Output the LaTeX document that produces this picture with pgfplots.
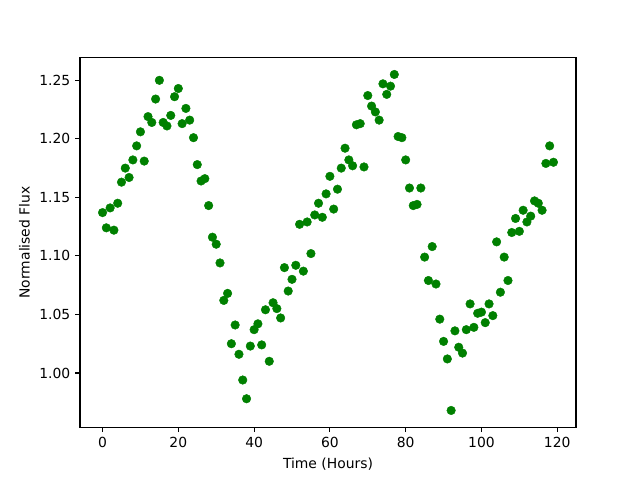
\documentclass[border=0pt]{standalone}
\usepackage{pgfplots}
\pgfplotsset{compat=1.18}
\usepackage{fontspec}
\setmainfont{DejaVu Sans}
\definecolor{mplgreen}{HTML}{008000}
\pgfplotstableread{
t f
0 1.137
1 1.124
2 1.141
3 1.122
4 1.145
5 1.163
6 1.175
7 1.167
8 1.182
9 1.194
10 1.206
11 1.181
12 1.219
13 1.214
14 1.234
15 1.250
16 1.214
17 1.211
18 1.220
19 1.236
20 1.243
21 1.213
22 1.226
23 1.216
24 1.201
25 1.178
26 1.164
27 1.166
28 1.143
29 1.116
30 1.110
31 1.094
32 1.062
33 1.068
34 1.025
35 1.041
36 1.016
37 0.994
38 0.978
39 1.023
40 1.037
41 1.042
42 1.024
43 1.054
44 1.010
45 1.060
46 1.055
47 1.047
48 1.090
49 1.070
50 1.080
51 1.092
52 1.127
53 1.087
54 1.129
55 1.102
56 1.135
57 1.145
58 1.133
59 1.153
60 1.168
61 1.140
62 1.157
63 1.175
64 1.192
65 1.182
66 1.177
67 1.212
68 1.213
69 1.176
70 1.237
71 1.228
72 1.223
73 1.216
74 1.247
75 1.238
76 1.245
77 1.255
78 1.202
79 1.201
80 1.182
81 1.158
82 1.143
83 1.144
84 1.158
85 1.099
86 1.079
87 1.108
88 1.076
89 1.046
90 1.027
91 1.012
92 0.968
93 1.036
94 1.022
95 1.017
96 1.037
97 1.059
98 1.039
99 1.051
100 1.052
101 1.043
102 1.059
103 1.049
104 1.112
105 1.069
106 1.099
107 1.079
108 1.120
109 1.132
110 1.121
111 1.139
112 1.129
113 1.134
114 1.147
115 1.145
116 1.139
117 1.179
118 1.194
119 1.180
}\datatable
\begin{document}
\fontsize{10bp}{12bp}\selectfont
\begin{tikzpicture}
\path[use as bounding box] (-0.8in,-0.528in) rectangle (5.6in,4.272in);
\begin{axis}[
  at={(0,0)}, anchor=south west,
  scale only axis,
  width=4.96in, height=3.696in,
  xmin=-5.95, xmax=124.95,
  ymin=0.9537, ymax=1.2694,
  xtick={0,20,40,60,80,100,120},
  ytick={1.00,1.05,1.10,1.15,1.20,1.25},
  yticklabel style={/pgf/number format/.cd, fixed, fixed zerofill, precision=2},
  /pgf/number format/assume math mode=true,
  tick align=outside,
  major tick length=3.5bp,
  tick style={line width=0.8bp, black},
  axis line style={line width=0.8bp},
  xtick pos=bottom, ytick pos=left,
  ticklabel style={font=\fontsize{10bp}{12bp}\selectfont},
  label style={font=\fontsize{10bp}{12bp}\selectfont},
  xlabel={Time (Hours)},
  ylabel={Normalised Flux},
  xlabel style={yshift=-1bp},
  ylabel style={yshift=0bp},
]
\addplot[only marks, mark=*, mark size=3.1bp, mark options={draw=mplgreen, fill=mplgreen, line width=0.3bp}] table[x=t, y=f] {\datatable};
\end{axis}
\end{tikzpicture}
\end{document}
